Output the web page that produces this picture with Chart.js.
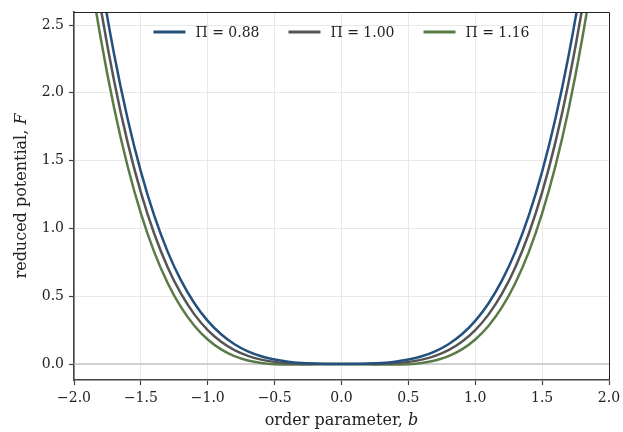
<!DOCTYPE html>
<html>
<head>
<meta charset="utf-8">
<script src="https://cdn.jsdelivr.net/npm/chart.js@4"></script>
<style>html,body{margin:0;padding:0;background:#fff}canvas{display:block}</style>
</head>
<body>
<canvas id="c" width="623" height="432"></canvas>
<script>
// order parameter b
const bValues = [-2.0,-1.9,-1.8,-1.7,-1.6,-1.5,-1.4,-1.3,-1.2,-1.1,-1.0,-0.9,-0.8,-0.7,-0.6,-0.5,-0.4,-0.3,-0.2,-0.1,0.0,
                 0.1,0.2,0.3,0.4,0.5,0.6,0.7,0.8,0.9,1.0,1.1,1.2,1.3,1.4,1.5,1.6,1.7,1.8,1.9,2.0];
// reduced potential F for each Pi
const F_088 = [4.272,3.5035,2.8447,2.2845,1.8125,1.4186,1.0937,0.8289,0.6163,0.4483,0.318,0.2191,0.1459,0.0934,0.0569,0.0326,0.0173,0.0081,0.0031,0.0007,0,
               0.0007,0.0031,0.0081,0.0173,0.0326,0.0569,0.0934,0.1459,0.2191,0.318,0.4483,0.6163,0.8289,1.0937,1.4186,1.8125,2.2845,2.8447,3.5035,4.272];
const F_100 = [4.0,3.258,2.6244,2.088,1.6384,1.2656,0.9604,0.714,0.5184,0.366,0.25,0.164,0.1024,0.06,0.0324,0.0156,0.0064,0.002,0.0004,0.0,0,
               0.0,0.0004,0.002,0.0064,0.0156,0.0324,0.06,0.1024,0.164,0.25,0.366,0.5184,0.714,0.9604,1.2656,1.6384,2.088,2.6244,3.258,4.0];
const F_116 = [3.724,3.0089,2.4008,1.8886,1.4618,1.1104,0.8252,0.5974,0.419,0.2825,0.181,0.1081,0.0582,0.0262,0.0076,-0.0016,-0.0046,-0.0042,-0.0024,-0.0007,0,
               -0.0007,-0.0024,-0.0042,-0.0046,-0.0016,0.0076,0.0262,0.0582,0.1081,0.181,0.2825,0.419,0.5974,0.8252,1.1104,1.4618,1.8886,2.4008,3.0089,3.724];
const seriesLabels = ['\u03A0 = 0.88','\u03A0 = 1.00','\u03A0 = 1.16'];
const seriesColors = ['#24507e','#555555','#5a7b48'];
const xTicks = [-2.0,-1.5,-1.0,-0.5,0.0,0.5,1.0,1.5,2.0];
const yTicks = [0.0,0.5,1.0,1.5,2.0,2.5];
const xTitle = ['order parameter, ','b'];
const yTitle = ['reduced potential, ','F'];

const FONT = "'DejaVu Serif', 'Liberation Serif', serif";
Chart.defaults.font.family = FONT;
Chart.defaults.color = '#222';

const fmt = v => v.toFixed(1).replace('-', '\u2212');
const allSeries = [F_088, F_100, F_116];

const datasets = allSeries.map((arr, i) => ({
  label: seriesLabels[i],
  data: bValues.map((b, j) => ({x: b, y: arr[j]})),
  borderColor: seriesColors[i],
  borderWidth: 2.5,
  pointRadius: 0,
  fill: false,
  cubicInterpolationMode: 'monotone',
  clip: 0
}));

const decor = {
  id: 'decor',
  beforeDatasetsDraw(chart) {
    const {ctx, chartArea: a, scales: {y}} = chart;
    const py = y.getPixelForValue(0);
    ctx.save();
    ctx.strokeStyle = '#c4c4c4';
    ctx.lineWidth = 1.6;
    ctx.beginPath(); ctx.moveTo(a.left, py); ctx.lineTo(a.right, py); ctx.stroke();
    ctx.restore();
  },
  afterDraw(chart) {
    const {ctx, chartArea: a} = chart;
    ctx.save();
    // top and right spines
    ctx.strokeStyle = '#222';
    ctx.lineWidth = 1;
    ctx.beginPath();
    ctx.moveTo(a.left, a.top + 0.5); ctx.lineTo(a.right + 0.5, a.top + 0.5);
    ctx.lineTo(a.right + 0.5, a.bottom);
    ctx.stroke();

    // legend
    ctx.font = '14px ' + FONT;
    ctx.textBaseline = 'middle';
    const lineLen = 32, gapText = 10, gapItem = 29;
    const widths = seriesLabels.map(t => ctx.measureText(t).width);
    let total = 0;
    widths.forEach((w, i) => { total += lineLen + gapText + w + (i < widths.length - 1 ? gapItem : 0); });
    let x = (a.left + a.right) / 2 - total / 2;
    const ly = 32;
    seriesLabels.forEach((t, i) => {
      ctx.strokeStyle = seriesColors[i];
      ctx.lineWidth = 3;
      ctx.beginPath(); ctx.moveTo(x, ly); ctx.lineTo(x + lineLen, ly); ctx.stroke();
      ctx.fillStyle = '#222';
      ctx.textAlign = 'left';
      ctx.fillText(t, x + lineLen + gapText, ly + 1);
      x += lineLen + gapText + widths[i] + gapItem;
    });

    // axis titles with italic symbol
    const drawTitle = (parts, cx, cy, rot) => {
      ctx.save();
      ctx.translate(cx, cy);
      if (rot) ctx.rotate(-Math.PI / 2);
      ctx.fillStyle = '#222';
      ctx.textBaseline = 'alphabetic';
      ctx.textAlign = 'left';
      const f1 = '16px ' + FONT, f2 = 'italic 16px ' + FONT;
      ctx.font = f1; const w1 = ctx.measureText(parts[0]).width;
      ctx.font = f2; const w2 = ctx.measureText(parts[1]).width;
      let sx = -(w1 + w2) / 2;
      ctx.font = f1; ctx.fillText(parts[0], sx, 0);
      ctx.font = f2; ctx.fillText(parts[1], sx + w1, 0);
      ctx.restore();
    };
    drawTitle(xTitle, (a.left + a.right) / 2, 425, false);
    drawTitle(yTitle, 26, (a.top + a.bottom) / 2, true);
    ctx.restore();
  }
};

new Chart(document.getElementById('c'), {
  type: 'line',
  data: { datasets },
  plugins: [decor],
  options: {
    responsive: false,
    animation: false,
    events: [],
    layout: { padding: { left: 0, top: 12, right: 14, bottom: 0 } },
    plugins: { legend: { display: false }, tooltip: { enabled: false } },
    scales: {
      x: {
        type: 'linear', min: -2, max: 2,
        afterBuildTicks: s => { s.ticks = xTicks.map(v => ({value: v})); },
        afterFit: s => { s.height = 52; s.paddingLeft = 0; s.paddingRight = 0; },
        ticks: { callback: v => fmt(v), font: { size: 14 }, color: '#222', padding: 5, maxRotation: 0, autoSkip: false },
        grid: { color: '#e8e8e8', lineWidth: 1, tickColor: '#444', tickLength: 5, tickWidth: 1.2 },
        border: { color: '#444', width: 1.6 }
      },
      y: {
        type: 'linear', min: -0.118, max: 2.596,
        afterBuildTicks: s => { s.ticks = yTicks.map(v => ({value: v})); },
        afterFit: s => { s.width = 74; s.paddingTop = 0; s.paddingBottom = 0; },
        ticks: { callback: v => fmt(v), font: { size: 14 }, color: '#222', padding: 5, autoSkip: false },
        grid: { color: '#e8e8e8', lineWidth: 1, tickColor: '#444', tickLength: 5, tickWidth: 1.2 },
        border: { color: '#444', width: 1.6 }
      }
    }
  }
});
</script>
</body>
</html>
